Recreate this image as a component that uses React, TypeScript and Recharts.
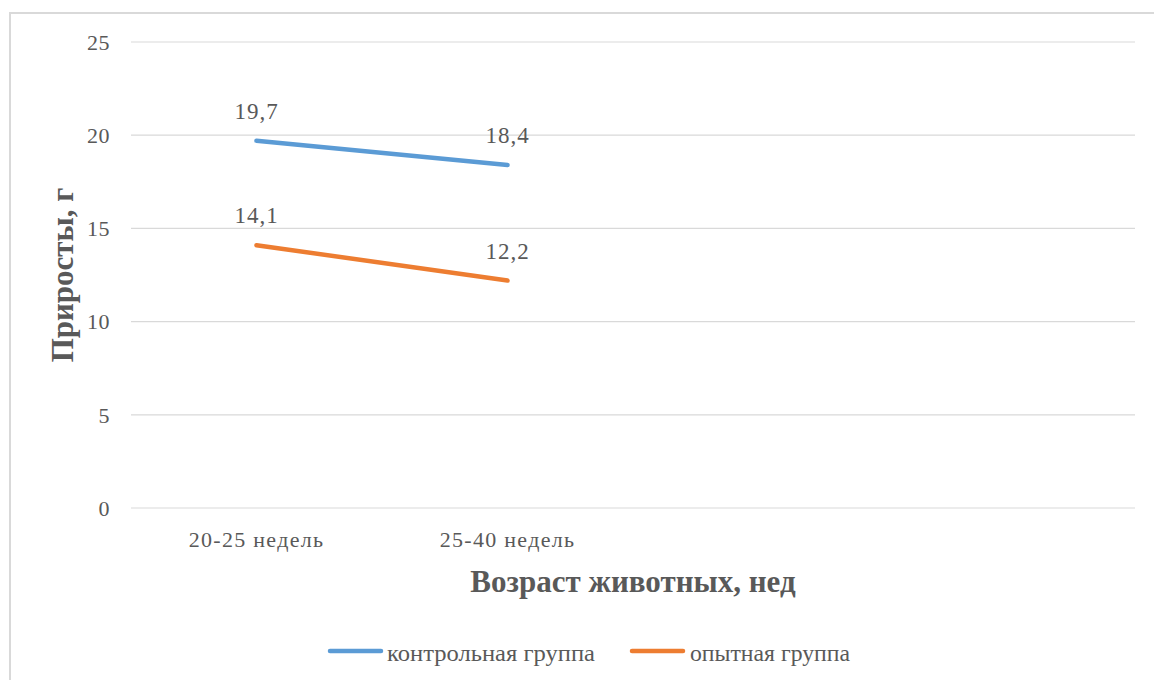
import React from "react";
import {
  LineChart,
  Line,
  XAxis,
  YAxis,
  CartesianGrid,
  LabelList,
} from "recharts";

// Age periods (the last two slots of the category axis stay empty)
const categories = ["20-25 недель", "25-40 недель", " ", "  "];

// Weight gain, g
const controlValues: (number | null)[] = [19.7, 18.4, null, null];
const experimentalValues: (number | null)[] = [14.1, 12.2, null, null];

const yTicks = [0, 5, 10, 15, 20, 25];

const seriesNames = ["контрольная группа", "опытная группа"];
const seriesColors = ["#5b9bd5", "#ed7d31"];

const xTitle = "Возраст животных, нед";
const yTitle = "Приросты, г";

const data = categories.map((c, i) => ({
  name: c,
  control: controlValues[i],
  experimental: experimentalValues[i],
}));

const FONT = "'Liberation Serif', 'Times New Roman', serif";
const TEXT = "#595959";
const GRID = "#d9d9d9";

const fmt = (v: any) =>
  v === null || v === undefined ? "" : String(v).replace(".", ",");

// Legend laid out below the chart
const legendItems = [
  { x: 328, len: 55, textX: 387, textLen: 208 },
  { x: 630, len: 55, textX: 690, textLen: 160 },
];

export default function App() {
  return (
    <div
      style={{
        position: "absolute",
        left: 0,
        top: 0,
        width: 1154,
        height: 680,
        overflow: "hidden",
        background: "#ffffff",
      }}
    >
      <div
        style={{
          position: "absolute",
          left: 9,
          top: 12,
          width: 1200,
          height: 720,
          border: `2px solid ${GRID}`,
          boxSizing: "border-box",
        }}
      />
      <div style={{ position: "absolute", left: 0, top: 0 }}>
        <LineChart
          width={1154}
          height={680}
          data={data}
          margin={{ top: 42, right: 19, bottom: 0, left: 0 }}
        >
          <CartesianGrid horizontal vertical={false} stroke={GRID} strokeWidth={1.2} />
          <XAxis
            dataKey="name"
            scale="band"
            height={172}
            axisLine={false}
            tickLine={false}
            tickSize={0}
            tickMargin={23}
            interval={0}
            tick={{ fill: TEXT, fontSize: 22, fontFamily: FONT, letterSpacing: 1.3 }}
            label={{
              value: xTitle,
              position: "insideTop",
              offset: 62,
              fill: TEXT,
              fontSize: 31,
              fontWeight: 700,
              fontFamily: FONT,
            }}
          />
          <YAxis
            width={131}
            domain={[0, 25]}
            ticks={yTicks}
            axisLine={false}
            tickLine={false}
            tickSize={0}
            tickMargin={21}
            tick={{ fill: TEXT, fontSize: 22, fontFamily: FONT, letterSpacing: 0.5 }}
            label={{
              content: (props: any) => {
                const vb = props.viewBox || { x: 0, y: 42, width: 131, height: 466 };
                const cx = 62;
                const cy = vb.y + vb.height / 2;
                return (
                  <text
                    x={cx}
                    y={cy}
                    transform={`rotate(-90, ${cx}, ${cy})`}
                    textAnchor="middle"
                    dominantBaseline="central"
                    fill={TEXT}
                    fontSize={31}
                    fontWeight={700}
                    fontFamily={FONT}
                  >
                    {yTitle}
                  </text>
                );
              },
            }}
          />
          <Line
            type="linear"
            dataKey="control"
            name={seriesNames[0]}
            stroke={seriesColors[0]}
            strokeWidth={4.5}
            strokeLinecap="round"
            dot={false}
            activeDot={false}
            isAnimationActive={false}
          >
            <LabelList
              dataKey="control"
              position="top"
              offset={22}
              formatter={fmt}
              fill={TEXT}
              fontSize={23}
              fontFamily={FONT}
              letterSpacing={1}
            />
          </Line>
          <Line
            type="linear"
            dataKey="experimental"
            name={seriesNames[1]}
            stroke={seriesColors[1]}
            strokeWidth={4.5}
            strokeLinecap="round"
            dot={false}
            activeDot={false}
            isAnimationActive={false}
          >
            <LabelList
              dataKey="experimental"
              position="top"
              offset={22}
              formatter={fmt}
              fill={TEXT}
              fontSize={23}
              fontFamily={FONT}
              letterSpacing={1}
            />
          </Line>
        </LineChart>
      </div>
      <svg
        width={1154}
        height={680}
        style={{ position: "absolute", left: 0, top: 0, pointerEvents: "none" }}
      >
        {legendItems.map((it, i) => (
          <g key={seriesNames[i]}>
            <line
              x1={it.x + 2}
              x2={it.x + it.len - 2}
              y1={651}
              y2={651}
              stroke={seriesColors[i]}
              strokeWidth={4.5}
              strokeLinecap="round"
            />
            <text
              x={it.textX}
              y={661}
              fill={TEXT}
              fontSize={23}
              fontFamily={FONT}
              textLength={it.textLen}
              lengthAdjust="spacingAndGlyphs"
            >
              {seriesNames[i]}
            </text>
          </g>
        ))}
      </svg>
    </div>
  );
}
